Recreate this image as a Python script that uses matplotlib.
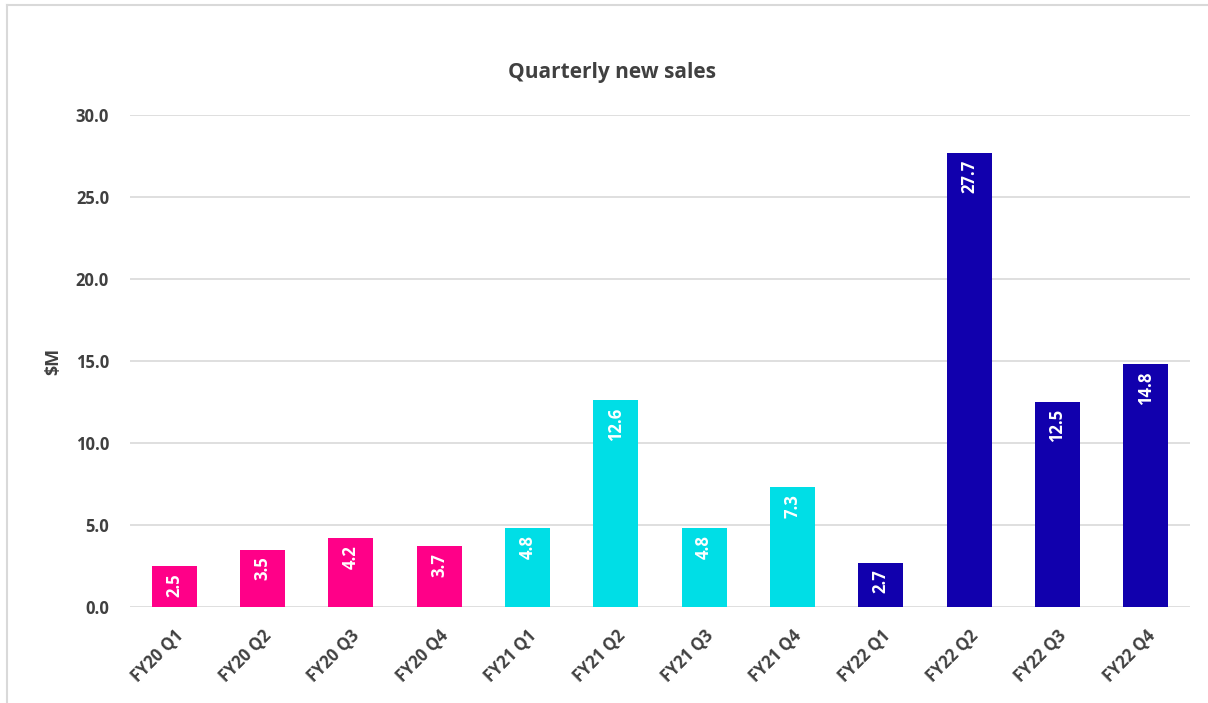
import matplotlib.pyplot as plt
from matplotlib.lines import Line2D

quarters = ["FY20 Q1", "FY20 Q2", "FY20 Q3", "FY20 Q4",
            "FY21 Q1", "FY21 Q2", "FY21 Q3", "FY21 Q4",
            "FY22 Q1", "FY22 Q2", "FY22 Q3", "FY22 Q4"]
sales = [2.5, 3.5, 4.2, 3.7, 4.8, 12.6, 4.8, 7.3, 2.7, 27.7, 12.5, 14.8]
fiscal_year = ["FY20"] * 4 + ["FY21"] * 4 + ["FY22"] * 4
year_colors = {"FY20": "#FF0088", "FY21": "#00DEE6", "FY22": "#1100AD"}
y_ticks = [0, 5, 10, 15, 20, 25, 30]

plt.rcParams['font.family'] = ['Open Sans', 'DejaVu Sans']

fig = plt.figure(figsize=(12.08, 7.03), dpi=100)
ax = fig.add_axes([0.1076, 0.1366, 0.8774, 0.6998])

colors = [year_colors[y] for y in fiscal_year]
x = range(len(quarters))
bars = ax.bar(x, sales, width=0.51, color=colors, zorder=2)

for rect, v in zip(bars, sales):
    ax.annotate(f"{v:.1f}", (rect.get_x() + rect.get_width() / 2, v),
                xytext=(0, -5), textcoords="offset points",
                rotation=90, ha="center", va="top",
                color="white", fontsize=12, fontweight="bold")

ax.set_xlim(-0.5, len(quarters) - 0.5)
ax.set_ylim(0, 30)
ax.set_yticks(y_ticks)
ax.set_yticklabels([f"{t:.1f}" for t in y_ticks], fontsize=12,
                   fontweight="bold", color="#404040")
ax.set_xticks(list(x))
ax.set_xticklabels(quarters, rotation=45, ha="right", va="top",
                   rotation_mode="anchor", fontsize=12, fontweight="bold",
                   color="#404040")
ax.tick_params(axis="y", length=0, pad=15)
ax.tick_params(axis="x", length=0, pad=14)
ax.grid(axis="y", color="#d9d9d9", linewidth=1.2, zorder=0)
for s in ax.spines.values():
    s.set_visible(False)

ax.set_ylabel("$M", fontsize=13, fontweight="bold", color="#404040", labelpad=10)
fig.text(0.507, 0.897, "Quarterly new sales", fontsize=15, fontweight="bold",
         color="#404040", ha="center", va="center")

# chart frame edges
fig.add_artist(Line2D([0.006, 0.006], [0, 0.993], color="#d9d9d9", lw=1.5))
fig.add_artist(Line2D([0.006, 1.0], [0.993, 0.993], color="#d9d9d9", lw=1.5))

fig.savefig("out.png", dpi=100)
